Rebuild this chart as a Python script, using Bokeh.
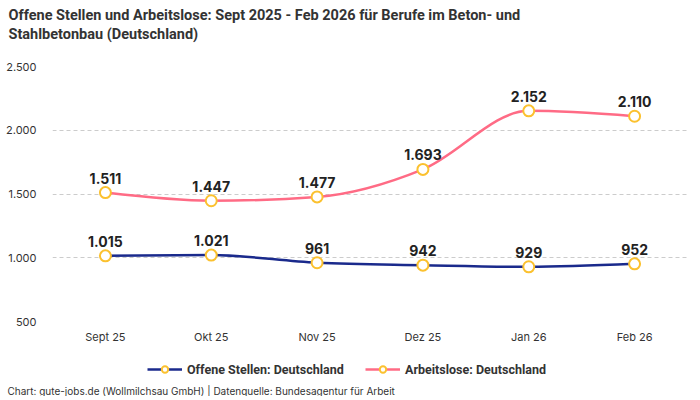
from bokeh.core.properties import value
from bokeh.embed import file_html
from bokeh.layouts import column
from bokeh.models import FixedTicker, Legend, LegendItem, Range1d, Title
from bokeh.plotting import figure
from bokeh.resources import INLINE

# Data
months = ["Sept 25", "Okt 25", "Nov 25", "Dez 25", "Jan 26", "Feb 26"]
offene_stellen = [1015, 1021, 961, 942, 929, 952]
arbeitslose = [1511, 1447, 1477, 1693, 2152, 2110]
y_ticks = [500, 1000, 1500, 2000, 2500]
y_tick_labels = ["500", "1.000", "1.500", "2.000", "2.500"]
series_names = ["Offene Stellen: Deutschland", "Arbeitslose: Deutschland"]

TITLE_FONT = "Roboto"
BODY_FONT = "Inter"
TEXT_COLOR = "#333333"
BLUE = "#1a2a8c"
PINK = "#ff6b85"
MARKER = "#fbc12f"


def de_format(v):
    return f"{v:,}".replace(",", ".")


def monotone_segments(xs, ys):
    """Bezier segments of a monotone cubic curve (like d3 curveMonotoneX)."""
    n = len(xs)
    tangents = [0.0] * n
    for i in range(1, n - 1):
        h0 = xs[i] - xs[i - 1]
        h1 = xs[i + 1] - xs[i]
        s0 = (ys[i] - ys[i - 1]) / h0
        s1 = (ys[i + 1] - ys[i]) / h1
        p = (s0 * h1 + s1 * h0) / (h0 + h1)
        sign = (s0 > 0) - (s0 < 0) + (s1 > 0) - (s1 < 0)
        tangents[i] = sign * min(abs(s0), abs(s1), 0.5 * abs(p))
    h = xs[1] - xs[0]
    tangents[0] = (3 * (ys[1] - ys[0]) / h - tangents[1]) / 2
    h = xs[-1] - xs[-2]
    tangents[-1] = (3 * (ys[-1] - ys[-2]) / h - tangents[-2]) / 2

    seg = dict(x0=[], y0=[], x1=[], y1=[], cx0=[], cy0=[], cx1=[], cy1=[])
    for i in range(n - 1):
        dx = (xs[i + 1] - xs[i]) / 3
        seg["x0"].append(xs[i])
        seg["y0"].append(ys[i])
        seg["x1"].append(xs[i + 1])
        seg["y1"].append(ys[i + 1])
        seg["cx0"].append(xs[i] + dx)
        seg["cy0"].append(ys[i] + dx * tangents[i])
        seg["cx1"].append(xs[i + 1] - dx)
        seg["cy1"].append(ys[i + 1] - dx * tangents[i + 1])
    return seg


x_pos = [i + 0.5 for i in range(len(months))]

# Main chart
# ----------
p = figure(
    width=689,
    height=346,
    x_range=Range1d(0, len(months)),
    y_range=Range1d(500, 2500),
    output_backend="svg",
    toolbar_location=None,
    min_border_left=52,
    min_border_right=2,
    min_border_top=66,
    min_border_bottom=25,
)
p.outline_line_color = None
p.border_fill_color = "white"

# Title lines (later added = further away from the frame); first one is a spacer
p.add_layout(Title(text=" ", text_font=TITLE_FONT, text_font_size="14.5px", standoff=5), "above")
p.add_layout(Title(text="Stahlbetonbau (Deutschland)", text_font=TITLE_FONT,
                   text_font_size="14.5px", text_color=TEXT_COLOR,
                   offset=-44, standoff=0), "above")
p.add_layout(Title(text="Offene Stellen und Arbeitslose: Sept 2025 - Feb 2026 für Berufe im Beton- und",
                   text_font=TITLE_FONT, text_font_size="14.5px", text_color=TEXT_COLOR,
                   offset=-44, standoff=0), "above")

# Axes
p.xaxis.ticker = FixedTicker(ticks=x_pos)
p.xaxis.major_label_overrides = {x: m for x, m in zip(x_pos, months)}
p.yaxis.ticker = FixedTicker(ticks=y_ticks)
p.yaxis.major_label_overrides = {t: l for t, l in zip(y_ticks, y_tick_labels)}
for ax in (p.xaxis, p.yaxis):
    ax.axis_line_color = None
    ax.major_tick_line_color = None
    ax.minor_tick_line_color = None
    ax.major_tick_out = 0
    ax.major_tick_in = 0
    ax.minor_tick_out = 0
    ax.major_label_text_font = BODY_FONT
    ax.major_label_text_font_size = "11px"
    ax.major_label_text_color = TEXT_COLOR
p.xaxis.major_label_standoff = 8
p.yaxis.major_label_standoff = 16

p.xgrid.grid_line_color = None
p.ygrid.grid_line_color = "#cccccc"
p.ygrid.grid_line_dash = "4 3"
p.ygrid.grid_line_width = 1

for values, color in zip([offene_stellen, arbeitslose], [BLUE, PINK]):
    seg = monotone_segments(x_pos, values)
    p.bezier(x0=seg["x0"], y0=seg["y0"], x1=seg["x1"], y1=seg["y1"],
             cx0=seg["cx0"], cy0=seg["cy0"], cx1=seg["cx1"], cy1=seg["cy1"],
             line_color=color, line_width=2.5)
    p.scatter(x=x_pos, y=values, size=11, fill_color="white",
              line_color=MARKER, line_width=2)
    p.text(x=x_pos, y=values, text=[de_format(v) for v in values],
           text_font=value(BODY_FONT), text_font_style="bold", text_font_size="14px",
           text_color="#222222", text_align="center", text_baseline="bottom",
           y_offset=-9)

# Legend and source line (own strip below the chart, same frame columns)
# -----------------------------------------------------------------------
f = figure(
    width=689,
    height=50,
    x_range=Range1d(0, 1),
    y_range=Range1d(0, 1),
    x_axis_type=None,
    y_axis_type=None,
    output_backend="svg",
    toolbar_location=None,
    min_border_left=52,
    min_border_right=2,
    min_border_top=0,
    min_border_bottom=0,
)
f.outline_line_color = None
f.grid.visible = False

legend_x = [95, 313]
for name, color, lx in zip(series_names, [BLUE, PINK], legend_x):
    # renderers outside the visible range, only used for the legend glyphs
    line_r = f.line(x=[-2, -1], y=[-2, -1], line_color=color, line_width=2.5)
    dot_r = f.scatter(x=[-1], y=[-1], size=11, fill_color="white",
                      line_color=MARKER, line_width=2)
    f.add_layout(Legend(
        items=[LegendItem(label=name, renderers=[line_r, dot_r])],
        location=(lx, 5),
        label_text_font=TITLE_FONT,
        label_text_font_style="bold",
        label_text_font_size="12.5px",
        label_text_color=TEXT_COLOR,
        label_standoff=5,
        glyph_width=35,
        glyph_height=16,
        label_height=16,
        border_line_color=None,
        background_fill_alpha=0,
        margin=0,
        padding=0,
    ), "center")

f.add_layout(Title(text="Chart: gute-jobs.de (Wollmilchsau GmbH) | Datenquelle: Bundesagentur für Arbeit",
                   text_font=BODY_FONT, text_font_size="10px", text_font_style="normal",
                   text_color=TEXT_COLOR, offset=-45, standoff=0), "below")

layout = column(p, f, spacing=0)

open("out.html", "w").write(file_html(layout, INLINE))
